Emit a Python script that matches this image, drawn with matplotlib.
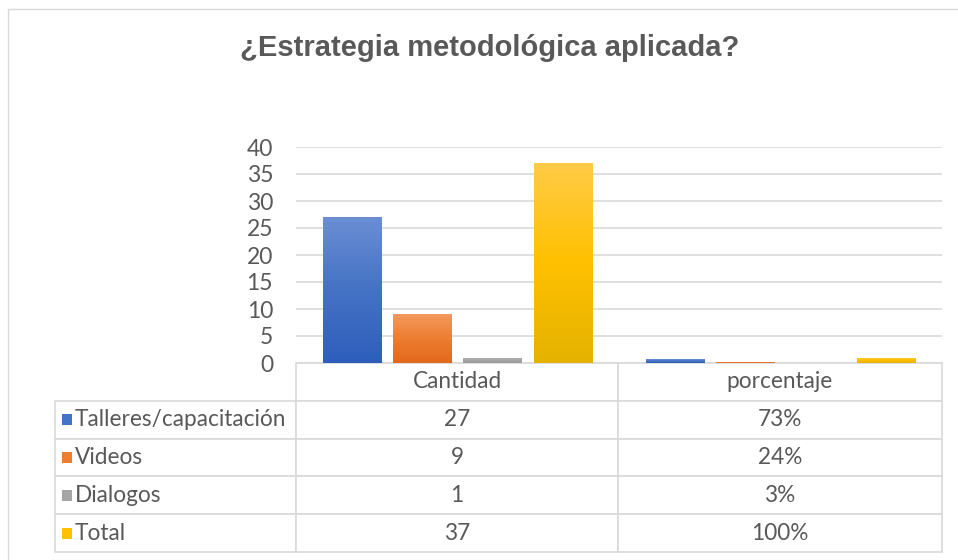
import numpy as np
import matplotlib
matplotlib.use("Agg")
import matplotlib.pyplot as plt
from matplotlib.colors import LinearSegmentedColormap
from matplotlib.patches import Rectangle

# ---- data ----
title = "¿Estrategia metodológica aplicada?"
categories = ["Cantidad", "porcentaje"]
series_names = ["Talleres/capacitación", "Videos", "Dialogos", "Total"]
cantidad = [27, 9, 1, 37]
porcentaje = [0.73, 0.24, 0.03, 1.00]
porcentaje_labels = ["73%", "24%", "3%", "100%"]
yticks = [0, 5, 10, 15, 20, 25, 30, 35, 40]

# ---- style ----
base_colors = ["#4472C4", "#ED7D31", "#A5A5A5", "#FFC000"]
top_colors = ["#6B8ED4", "#F3995E", "#B2B2B2", "#FFCB47"]
bottom_colors = ["#2E5EBC", "#E2681C", "#9B9B9B", "#E4B200"]
text_color = "#595959"
grid_color = "#D9D9D9"
body_font = ["Lato", "DejaVu Sans"]
title_font = ["Liberation Sans", "DejaVu Sans"]

W, H = 958, 560
fig = plt.figure(figsize=(W / 100, H / 100), dpi=100)
fig.patch.set_facecolor("white")

# outer chart border
fig.add_artist(Rectangle((8 / W, -0.05), 1.2, 1 - 9 / H + 0.05, transform=fig.transFigure,
                         fill=False, edgecolor="#D9D9D9", linewidth=1.0))

ax = fig.add_axes([296 / W, 1 - 363 / H, (942 - 296) / W, (363 - 147) / H])
ax.set_facecolor("none")

x = np.arange(len(categories))
n = len(series_names)
bar_w = 0.18
step = 0.217
values = np.array([cantidad, porcentaje]).T  # series x categories

for i in range(n):
    cmap = LinearSegmentedColormap.from_list(
        f"g{i}", [bottom_colors[i], base_colors[i], top_colors[i]])
    grad = np.linspace(0, 1, 256).reshape(-1, 1)
    bars = ax.bar(x + (i - (n - 1) / 2) * step, values[i], width=bar_w,
                  color=base_colors[i], zorder=2, linewidth=0)
    for b in bars:
        x0, y0 = b.get_x(), b.get_y()
        im = ax.imshow(grad, extent=[x0, x0 + b.get_width(), y0, y0 + b.get_height()],
                       origin="lower", cmap=cmap, aspect="auto", zorder=3,
                       interpolation="bilinear")
        im.set_clip_path(b)

ax.set_xlim(-0.5, len(categories) - 0.5)
ax.set_ylim(0, 40)
ax.set_yticks(yticks)
ax.set_yticklabels([str(t) for t in yticks], fontsize=16.5, color=text_color,
                   family=body_font)
ax.tick_params(axis="y", length=0, pad=16.5)
ax.set_xticks([])
ax.grid(axis="y", color=grid_color, linewidth=1.2, zorder=0)
for s in ax.spines.values():
    s.set_visible(False)

# ---- data table ----
cell_text = [["", categories[0], categories[1]]]
for i in range(n):
    cell_text.append([series_names[i], str(cantidad[i]), porcentaje_labels[i]])

tbl_left = (55 - 296) / 646
tbl_bottom = -(552 - 363) / 216
tbl = ax.table(cellText=cell_text,
               colWidths=[241, 322, 324],
               cellLoc="center",
               bbox=[tbl_left, tbl_bottom, (942 - 55) / 646, (552 - 363) / 216])
tbl.auto_set_font_size(False)
for (r, c), cell in tbl.get_celld().items():
    cell.set_edgecolor(grid_color)
    cell.set_linewidth(1.2)
    cell.set_facecolor("white")
    t = cell.get_text()
    t.set_fontsize(16.3)
    t.set_color(text_color)
    t.set_fontfamily(body_font)
    if c == 0:
        cell._loc = "left"
        t.set_horizontalalignment("left")
        cell.PAD = 20 / 241
    if r == 0 and c == 0:
        cell.visible_edges = ""

# legend keys in table rows
nrows = n + 1
row_h = ((552 - 363) / 216) / nrows
for i in range(n):
    yc = tbl_bottom + (nrows - 1 - (i + 1) + 0.5) * row_h
    xk0 = (62 - 296) / 646
    ax.add_patch(Rectangle((xk0, yc - 5.5 / 216), 10 / 646, 11 / 216,
                           transform=ax.transAxes, clip_on=False,
                           facecolor=base_colors[i], edgecolor="none", zorder=5))

fig.text(490 / W, 1 - 48 / H, title, ha="center", va="center", fontsize=21,
         fontweight="bold", color=text_color, family=title_font)

fig.savefig("out.png", dpi=100, facecolor="white")
